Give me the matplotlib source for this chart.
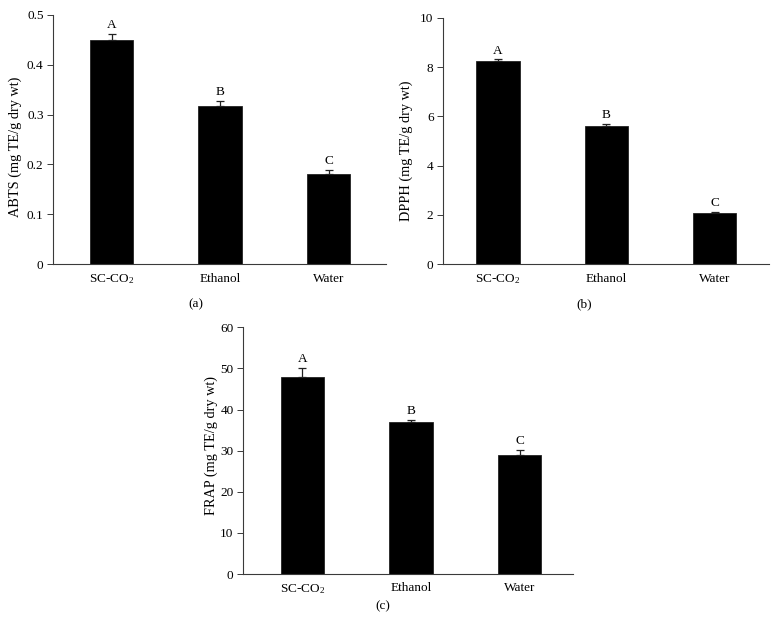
import matplotlib
matplotlib.use("Agg")
import matplotlib.pyplot as plt
import numpy as np

plt.rcParams['font.family'] = ['Liberation Serif', 'DejaVu Serif']
plt.rcParams['mathtext.fontset'] = 'custom'
plt.rcParams['mathtext.rm'] = 'Liberation Serif'
plt.rcParams['mathtext.it'] = 'Liberation Serif:italic'

categories = ["SC-CO$_2$", "Ethanol", "Water"]
letters = ["A", "B", "C"]

abts = [0.45, 0.317, 0.181]
abts_err = [0.012, 0.011, 0.008]
dpph = [8.23, 5.62, 2.09]
dpph_err = [0.08, 0.08, 0.05]
frap = [48.0, 36.9, 28.9]
frap_err = [2.2, 0.6, 1.2]

panels = [
    dict(vals=abts, err=abts_err, ylim=(0, 0.5), ticks=[0, 0.1, 0.2, 0.3, 0.4, 0.5],
         ticklabels=["0", "0.1", "0.2", "0.3", "0.4", "0.5"],
         ylabel="ABTS (mg TE/g dry wt)", tag="(a)",
         rect=[0.0686, 0.5785, 0.4282, 0.3981], xlim=(-0.537, 2.53), lx=-0.094, ly=0.472,
         tagpos=(0.252, 0.514)),
    dict(vals=dpph, err=dpph_err, ylim=(0, 10), ticks=[0, 2, 4, 6, 8, 10],
         ticklabels=["0", "2", "4", "6", "8", "10"],
         ylabel="DPPH (mg TE/g dry wt)", tag="(b)",
         rect=[0.5705, 0.5785, 0.4196, 0.3933], xlim=(-0.505, 2.504), lx=-0.093, ly=0.46,
         tagpos=(0.7516, 0.514)),
    dict(vals=frap, err=frap_err, ylim=(0, 60), ticks=[0, 10, 20, 30, 40, 50, 60],
         ticklabels=["0", "10", "20", "30", "40", "50", "60"],
         ylabel="FRAP (mg TE/g dry wt)", tag="(c)",
         rect=[0.3131, 0.0845, 0.4240, 0.3935], xlim=(-0.544, 2.49), lx=-0.077, ly=0.52,
         tagpos=(0.493, 0.0335)),
]

fig = plt.figure(figsize=(7.77, 6.27), dpi=100)
spine_col = "#3a3a3a"
for p in panels:
    ax = fig.add_axes(p["rect"])
    x = np.arange(len(categories))
    ax.bar(x, p["vals"], width=0.4, color="black", edgecolor="#222222", linewidth=0.6)
    ax.errorbar(x, p["vals"], yerr=[np.zeros(len(x)), p["err"]], fmt="none",
                ecolor="#222222", elinewidth=0.9, capsize=3.0, capthick=0.9)
    for xi, v, e, l in zip(x, p["vals"], p["err"], letters):
        ax.annotate(l, (xi, v + e), xytext=(0, 2.0), textcoords="offset points",
                    ha="center", va="bottom", fontsize=9.5)
    ax.set_xlim(*p["xlim"])
    ax.set_ylim(*p["ylim"])
    ax.set_yticks(p["ticks"])
    ax.set_yticklabels(p["ticklabels"])
    ax.set_xticks(x)
    ax.set_xticklabels(categories)
    ax.tick_params(axis="x", length=0, pad=6, labelsize=9.5)
    ax.tick_params(axis="y", length=4, width=0.7, color=spine_col, pad=3, labelsize=9.5,
                   direction="out")
    for s in ["top", "right"]:
        ax.spines[s].set_visible(False)
    for s in ["left", "bottom"]:
        ax.spines[s].set_color(spine_col)
        ax.spines[s].set_linewidth(0.8)
    ax.set_ylabel(p["ylabel"], fontsize=10.3)
    ax.yaxis.set_label_coords(p["lx"], p["ly"])
    fig.text(p["tagpos"][0], p["tagpos"][1], p["tag"], ha="center", va="center", fontsize=9.5)

fig.savefig("out.png", dpi=100)
